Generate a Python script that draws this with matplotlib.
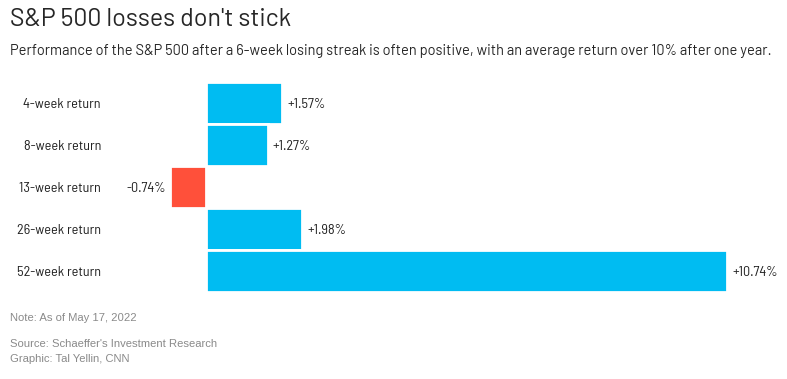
import matplotlib.pyplot as plt
import numpy as np

labels = ["4-week return", "8-week return", "13-week return", "26-week return", "52-week return"]
values = [1.57, 1.27, -0.74, 1.98, 10.74]
value_text = ["+1.57%", "+1.27%", "-0.74%", "+1.98%", "+10.74%"]

blue = "#00bcf2"
red = "#ff503a"
cond = ["Barlow Semi Condensed", "DejaVu Sans"]

fig = plt.figure(figsize=(7.87, 3.79), dpi=100)
W, H = 787, 379

# axes placed so that zero sits at ~207px and 10.74 ends at ~728px
ax = fig.add_axes([133.5 / W, (H - 292) / H, 630.5 / W, 210 / H])
ax.set_xlim(-1.5, 11.5)
ax.set_ylim(4.5, -0.5)
ax.axis("off")

y = np.arange(len(values))
colors = [blue if v >= 0 else red for v in values]
ax.barh(y, values, height=1.0, color=colors, edgecolor="white", linewidth=2)

for yi, v, t, lab in zip(y, values, value_text, labels):
    if v >= 0:
        ax.text(v + 0.1, yi + 0.03, t, ha="left", va="center", fontsize=10.2, family=cond, color="#222222")
    else:
        ax.text(v - 0.1, yi + 0.03, t, ha="right", va="center", fontsize=10.2, family=cond, color="#222222")
    ax.text(101 / W, 1 - (104 + 42 * yi) / H, lab, transform=fig.transFigure,
            ha="right", va="center", fontsize=10.2, family=cond, color="#222222")

fig.text(10 / W, 1 - 20 / H, "S&P 500 losses don't stick", fontsize=18, family=["Barlow", "DejaVu Sans"],
         color="#262626", va="center", ha="left")
fig.text(10 / W, 1 - 51 / H,
         "Performance of the S&P 500 after a 6-week losing streak is often positive, with an average return over 10% after one year.",
         fontsize=10.5, family=["Barlow", "DejaVu Sans"], color="#262626", va="center", ha="left")

foot = ["Liberation Sans", "DejaVu Sans"]
fig.text(10 / W, 1 - 318 / H, "Note: As of May 17, 2022", fontsize=8.1, family=foot, color="#8a8a8a", va="center")
fig.text(10 / W, 1 - 344 / H, "Source: Schaeffer's Investment Research", fontsize=8.1, family=foot, color="#8a8a8a", va="center")
fig.text(10 / W, 1 - 359 / H, "Graphic: Tal Yellin, CNN", fontsize=8.1, family=foot, color="#8a8a8a", va="center")

fig.savefig("out.png", dpi=100)
